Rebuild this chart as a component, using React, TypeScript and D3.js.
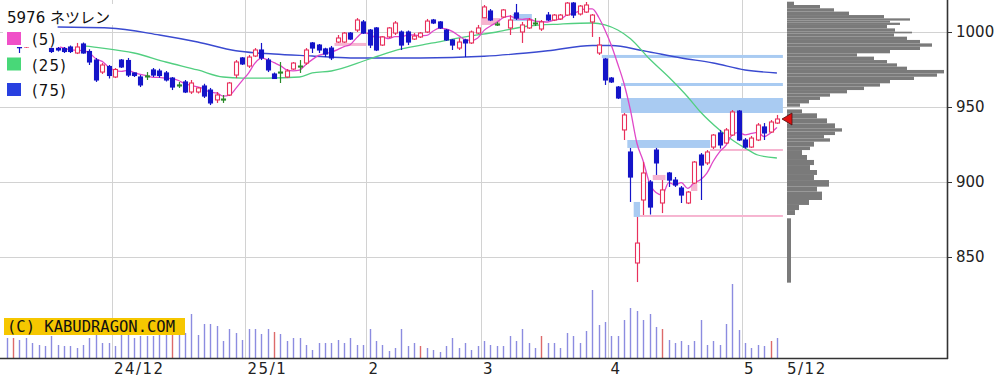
import React, { useEffect, useRef } from 'react';
import * as d3 from 'd3';

// daily candles, 2024/11 .. 2025/5/12
const opens = [
  992, 994, 993, 990, 993, 991, 994, 989, 989, 989,
  990, 986, 992, 987, 981.3, 973.3, 977, 970, 981.3, 981,
  972.7, 970, 970.7, 974.7, 974, 972.7, 969.3, 964.7, 966.7, 960,
  960, 964, 961.3, 954.7, 955.3, 958, 971.3, 982.7, 977.3, 984,
  988, 981.3, 972, 973.3, 970, 975.3, 977.3, 979.3, 992.7, 991.3,
  988.7, 989.3, 993.3, 993.3, 999.3, 1001.3, 1006.7, 1001.3, 1002.7, 991.3,
  996.7, 999.3, 1000, 1000, 995.3, 996.7, 1000, 1008, 1006.7, 1001.3,
  994.7, 989.3, 994.7, 992.7, 999.3, 1009.5, 1014, 1005.3, 1010, 1002.7,
  1012.7, 1000, 1002.7, 1006, 1002, 1011.3, 1008, 1008.7, 1011.3, 1019.3,
  1012, 1013.3, 1006.7, 986, 982, 969.3, 963.3, 934.7, 920, 846,
  888, 900, 921.3, 886, 906, 901.3, 896, 886, 899.3, 918,
  912.7, 923.3, 932.7, 926, 931.3, 947.3, 928, 923.3, 928, 936.7,
  933.3, 939.3,
];
const highs = [
  995, 997, 994, 994, 996, 995, 996, 989.5, 990, 990,
  991, 992.7, 993, 988.5, 982.7, 979.3, 978, 976, 982, 982.7,
  973, 971.3, 973.3, 976, 975.5, 974, 970, 966.7, 968, 968,
  963.3, 965.5, 962.7, 960, 958, 966.7, 981.3, 983.3, 984.7, 989.3,
  992.7, 982.7, 973, 980, 975.3, 980, 981.3, 989.3, 993.3, 992,
  989.5, 990.7, 998, 1000, 1000, 1009.3, 1008, 1002, 1003.3, 997.3,
  1003.3, 1007.3, 1001, 1001, 999.3, 1000, 1008.7, 1008.7, 1007.3, 1002,
  995.3, 996, 995.5, 1001, 1004.7, 1018, 1015.3, 1006.7, 1015.3, 1011.3,
  1018.7, 1006.7, 1009.3, 1009.3, 1008, 1013.3, 1012, 1012, 1020, 1020,
  1018, 1020, 1012, 996.7, 982.7, 970, 964, 946, 922.7, 876.7,
  913.3, 901.3, 922.7, 901.3, 906.7, 903.3, 897.3, 894, 914, 919.3,
  921.3, 932, 934.7, 936, 948, 948, 929.3, 930.7, 939.3, 939.3,
  941.3, 944.7,
];
const lows = [
  990, 991, 986, 989.5, 990, 990, 990, 986, 987, 986,
  986, 985.3, 985.5, 978, 966.7, 972, 969, 969.3, 976, 970,
  970, 963.3, 968, 970, 969.5, 967, 961.3, 962.7, 959.3, 958.7,
  959, 956, 951.3, 952.7, 952.7, 957.3, 969.3, 978, 976, 983.3,
  981.3, 973.3, 968.7, 966, 969.3, 974.7, 972.7, 978, 986, 986,
  983.3, 981.3, 992.7, 992.7, 994.7, 1000, 998.7, 989.3, 987.3, 990.7,
  996, 998, 988, 991.3, 994.7, 996, 999.3, 1005.3, 1002, 994,
  988, 988, 983.3, 992, 998.7, 1009.3, 1007.3, 1004, 1009.3, 998,
  1008, 992.7, 1002, 1004, 1000.7, 1007.3, 1007.3, 1008, 1010.7, 1009.3,
  1011, 1012.7, 996.7, 984.7, 964.7, 966, 955.3, 928, 886.7, 833.3,
  878, 878.3, 904.7, 879.3, 896.7, 896.7, 886, 885.3, 898.7, 888,
  911.3, 922, 922.3, 925.3, 930.7, 927.3, 922.3, 922.7, 927.3, 928,
  932.7, 938.7,
];
const closes = [
  994, 993, 989.5, 993, 991, 994, 991, 987, 988, 987,
  987, 990, 986, 980, 968, 978, 971, 975, 976.7, 971.3,
  971, 964.7, 970.7, 971.3, 971, 968, 963.3, 964.7, 960, 966,
  962.7, 957.3, 952.7, 958, 955.3, 966, 980, 978.7, 983.3, 988,
  982.7, 974.7, 969, 973.3, 974, 979.3, 977.3, 988, 989.3, 988,
  985.3, 982.7, 996, 999.3, 995.3, 1008, 999.3, 991.3, 988, 996.7,
  1002.7, 1006, 991.3, 993.3, 997.3, 999.3, 1007.3, 1006, 1002.7, 994.7,
  991.3, 993.3, 992.7, 1000, 1002.7, 1016.7, 1008, 1005.3, 1014.7, 1008,
  1009.3, 1004.7, 1008, 1006, 1006.7, 1008, 1011.3, 1011.3, 1019.3, 1011.3,
  1017.3, 1018, 1011.3, 991.3, 968, 966.7, 956, 944.7, 903.3, 859.3,
  906, 883.3, 912.7, 894.7, 901.3, 898, 891.3, 893.3, 913.3, 911.3,
  920, 931.3, 924.7, 934.7, 946.7, 928, 923.3, 929.3, 938, 932.7,
  940, 942,
];
// volume, thousand shares
const volumes = [
  20, 20, 18, 20, 15, 13, 12, 22, 13, 12,
  12, 10, 13, 20, 28, 15, 15, 12, 25, 25,
  20, 22, 22, 22, 24, 24, 24, 24, 25, 44,
  23, 34, 34, 32, 17, 29, 25, 18, 29, 29,
  24, 29, 26, 24, 17, 20, 20, 13, 8, 15,
  15, 15, 18, 15, 20, 13, 13, 29, 17, 13,
  7, 10, 29, 12, 15, 12, 10, 8, 6, 12,
  20, 10, 15, 8, 12, 17, 13, 12, 12, 22,
  17, 29, 15, 10, 22, 15, 15, 10, 25, 22,
  15, 27, 68, 33, 36, 22, 22, 38, 50, 47,
  38, 44, 31, 29, 18, 15, 17, 13, 17, 38,
  13, 17, 13, 34, 74, 28, 15, 10, 13, 12,
  17, 20,
];
const markedVolumeDays = [1, 26, 42, 65, 84, 103, 120];

// first trading day of each month
const monthStarts = [17, 38, 57, 75, 95, 116];
const monthLabels = ['24/12', '25/1', '2', '3', '4', '5'];
const lastDateLabel = '5/12';
const priceTicks = [1000, 950, 900, 850];

// moving averages (day index, price)
const ma25Days = [12, 15, 20, 25, 30, 34, 37, 41, 46, 48, 51, 57, 62, 67, 72, 77, 82, 87, 92, 94, 96, 98, 101, 104, 107, 109, 112, 114, 116, 118, 121];
const ma25Vals = [990.7, 989.3, 986, 980, 974.7, 970, 969.3, 969.3, 970, 972.7, 974, 982, 988.7, 992.7, 996.7, 1000, 1004, 1005.3, 1006, 1004.7, 1001.3, 995.5, 982, 970, 956.7, 946.7, 934.7, 928, 922.7, 918, 916];
const ma75Days = [8, 16, 24, 30, 36, 42, 48, 54, 65, 75, 85, 92, 95, 100, 106, 111, 116, 121];
const ma75Vals = [1003.3, 1002.7, 998, 993.3, 987.5, 985.3, 984, 982.7, 982.7, 983.8, 987.5, 991, 991, 987.5, 982.7, 979.3, 974.7, 972.7];

// price gaps (窓): -1 end = still open
const gapStart = [52, 75, 80, 94, 97, 97, 98, 99, 100, 102, 108, 111];
const gapEnd = [56, 77, 82, -1, -1, -1, 110, 99, -1, 103, 108, -1];
const gapLow = [990.7, 1004.7, 1007.3, 982.7, 964, 946, 922.7, 876.7, 876.7, 901.3, 894, 920.7];
const gapHigh = [992.7, 1009.3, 1012, 984.7, 966, 956, 928, 886.7, 878, 904.7, 898.7, 922];
const gapUp = [true, true, false, false, false, false, false, false, true, true, true, true];

// volume by price
const profHigh = [1020.2, 1018, 1015.8, 1013.6, 1011.3, 1009.1, 1007.6, 1006.2, 1004.7, 1002.4, 1000.2, 999.1, 996.9, 994.7, 992.4, 990.2, 988, 985.8, 983.6, 981.3, 979.1, 976.9, 974.7, 972.4, 970.2, 968, 965.8, 963.6, 961.3, 959.1, 956.9, 954.7, 952.4, 948.4, 945.8, 942.4, 939.1, 935.8, 933.6, 931.3, 929.1, 926.9, 923.6, 921.3, 918, 914.7, 911.3, 908, 904.7, 901.3, 896.9, 893.6, 888, 884.7, 881.3, 875.8];
const profLow = [1018, 1015.8, 1013.6, 1011.3, 1009.1, 1007.6, 1006.2, 1004.7, 1002.4, 1000.2, 999.1, 996.9, 994.7, 992.4, 990.2, 988, 985.8, 983.6, 981.3, 979.1, 976.9, 974.7, 972.4, 970.2, 968, 965.8, 963.6, 961.3, 959.1, 956.9, 954.7, 952.4, 950.2, 945.8, 942.4, 939.1, 935.8, 933.6, 931.3, 929.1, 926.9, 923.6, 921.3, 918, 914.7, 911.3, 908, 904.7, 901.3, 896.9, 893.6, 888, 884.7, 881.3, 878, 832.9];
const profVol = [7, 33, 47, 62, 97, 123, 103, 113, 100, 108, 125, 107, 120, 133, 145, 133, 103, 70, 87, 100, 110, 120, 157, 150, 127, 103, 93, 77, 60, 43, 33, 22, 13, 15, 30, 40, 48, 55, 48, 37, 43, 27, 23, 15, 20, 27, 23, 30, 27, 42, 30, 35, 22, 12, 8, 4];

const UP = '#e8305c';
const DOWN = '#1414c8';
const EVEN = '#2a8a2a';
const SANS = '"DejaVu Sans", "Noto Sans CJK JP", sans-serif';

const App: React.FC = () => {
    const svgRef = useRef<SVGSVGElement>(null);

    useEffect(() => {
        if (!svgRef.current) return;
        const svg = d3.select(svgRef.current);
        svg.selectAll('*').remove();

        const width = 1001;
        const height = 391;
        const axisX = 947;
        const baseY = 358;
        const n = closes.length;

        const x = d3.scaleLinear().domain([0, n - 1]).range([6.7, 776.9]);
        const y = d3.scaleLinear().domain([850, 1000]).range([257, 32]);
        const vy = d3.scaleLinear().domain([0, 100]).range([baseY, baseY - 100]);
        const pvx = d3.scaleLinear().domain([0, 160]).range([787, 947]);
        const step = x(1) - x(0);
        const rightEnd = x(n - 1) + 6;

        svg.append('rect').attr('width', width).attr('height', height).attr('fill', '#fff');

        // grid
        svg.append('g').selectAll('line').data(priceTicks).join('line')
            .attr('x1', 0).attr('x2', axisX)
            .attr('y1', d => Math.round(y(d)) + 0.5).attr('y2', d => Math.round(y(d)) + 0.5)
            .attr('stroke', '#d2d2d2');
        svg.append('g').selectAll('line').data(monthStarts).join('line')
            .attr('x1', d => Math.round(x(d) - step / 2) + 0.5).attr('x2', d => Math.round(x(d) - step / 2) + 0.5)
            .attr('y1', 0).attr('y2', baseY)
            .attr('stroke', '#d2d2d2');

        // gaps
        svg.append('g').selectAll('rect').data(gapStart.map((s, i) => i)).join('rect')
            .attr('x', i => x(gapStart[i]) - step / 2)
            .attr('width', i => (gapEnd[i] < 0 ? rightEnd : x(gapEnd[i]) + step / 2) - (x(gapStart[i]) - step / 2))
            .attr('y', i => y(gapHigh[i]))
            .attr('height', i => Math.max(1.5, y(gapLow[i]) - y(gapHigh[i])))
            .attr('fill', i => gapUp[i] ? '#f6b4d0' : '#a9cbf2');

        // moving averages
        const ma5: [number, number][] = [];
        for (let i = 4; i < n; i++) {
            ma5.push([i, d3.mean(closes.slice(i - 4, i + 1)) as number]);
        }
        const line = d3.line<[number, number]>()
            .x(d => x(d[0]))
            .y(d => y(d[1]))
            .curve(d3.curveMonotoneX);

        svg.append('path').datum(ma75Days.map((d, i) => [d, ma75Vals[i]] as [number, number]))
            .attr('fill', 'none').attr('stroke', '#3a4ad0').attr('stroke-width', 1.4).attr('d', line);
        svg.append('path').datum(ma25Days.map((d, i) => [d, ma25Vals[i]] as [number, number]))
            .attr('fill', 'none').attr('stroke', '#52cf80').attr('stroke-width', 1.3).attr('d', line);
        svg.append('path').datum(ma5)
            .attr('fill', 'none').attr('stroke', '#e048c8').attr('stroke-width', 1.3).attr('d', line);

        // candles
        const idx = d3.range(n);
        const colorOf = (i: number) => closes[i] > opens[i] ? UP : closes[i] < opens[i] ? DOWN : EVEN;
        const candles = svg.append('g');
        candles.selectAll('line').data(idx).join('line')
            .attr('x1', i => Math.round(x(i)) + 0.5).attr('x2', i => Math.round(x(i)) + 0.5)
            .attr('y1', i => y(highs[i])).attr('y2', i => y(lows[i]))
            .attr('stroke', colorOf).attr('stroke-width', 1.2);
        candles.selectAll('rect').data(idx).join('rect')
            .attr('x', i => Math.round(x(i)) - 1.5)
            .attr('width', 4)
            .attr('y', i => y(Math.max(opens[i], closes[i])))
            .attr('height', i => Math.max(1, Math.abs(y(opens[i]) - y(closes[i]))))
            .attr('fill', i => closes[i] > opens[i] ? '#fff' : colorOf(i))
            .attr('stroke', colorOf)
            .attr('stroke-width', 1.1);

        // volume
        svg.append('g').selectAll('rect').data(idx).join('rect')
            .attr('x', i => Math.round(x(i)) - 0.2)
            .attr('width', 1.4)
            .attr('y', i => vy(volumes[i]))
            .attr('height', i => baseY - vy(volumes[i]))
            .attr('fill', i => markedVolumeDays.includes(i) ? '#dd6a6a' : '#8c8ce0');

        // volume by price
        svg.append('g').selectAll('rect').data(profVol.map((v, i) => i)).join('rect')
            .attr('x', pvx(0))
            .attr('width', i => pvx(profVol[i]) - pvx(0))
            .attr('y', i => y(profHigh[i]))
            .attr('height', i => y(profLow[i]) - y(profHigh[i]))
            .attr('fill', '#7a7a7a');

        // last price marker
        const ly = y(closes[n - 1]);
        svg.append('path')
            .attr('d', `M${pvx(0) - 5},${ly} L${pvx(0) + 5},${ly - 6} L${pvx(0) + 5},${ly + 6} Z`)
            .attr('fill', '#e01010').attr('stroke', '#501010').attr('stroke-width', 0.8);

        // axes
        svg.append('line').attr('x1', axisX + 0.5).attr('x2', axisX + 0.5).attr('y1', 0).attr('y2', baseY + 1)
            .attr('stroke', '#333').attr('stroke-width', 1.6);
        svg.append('line').attr('x1', 0).attr('x2', axisX + 1).attr('y1', baseY + 0.5).attr('y2', baseY + 0.5)
            .attr('stroke', '#333').attr('stroke-width', 1.6);

        const yAxis = svg.append('g')
            .attr('transform', `translate(${axisX},0)`)
            .call(d3.axisRight(y).tickValues(priceTicks).tickSize(5).tickPadding(4).tickFormat(d3.format('d')));
        yAxis.select('.domain').remove();
        yAxis.selectAll('line').attr('stroke', '#333');
        yAxis.selectAll('text').attr('fill', '#222').style('font-family', SANS).style('font-size', '15px');

        const dates = svg.append('g')
            .style('font-family', SANS).style('font-size', '15px').style('letter-spacing', '1.5px').attr('fill', '#222');
        dates.selectAll('text').data(monthStarts).join('text')
            .attr('x', d => x(d) - 1)
            .attr('y', 374)
            .text((d, i) => monthLabels[i]);
        dates.append('text').attr('x', pvx(0)).attr('y', 374).text(lastDateLabel);

        // watermark
        svg.append('rect').attr('x', 4).attr('y', 318).attr('width', 181).attr('height', 17).attr('fill', '#f6c700');
        svg.append('text').attr('x', 7).attr('y', 332)
            .style('font-family', '"DejaVu Sans Mono", monospace').style('font-size', '15.5px')
            .attr('fill', '#111').text('(C) KABUDRAGON.COM');

        // title + legend
        svg.append('rect').attr('x', 3).attr('y', 4).attr('width', 121).attr('height', 21).attr('fill', '#fff');
        svg.append('text').attr('x', 7).attr('y', 23)
            .style('font-family', SANS).style('font-size', '15px').attr('fill', '#111').text('5976 ネツレン');

        const legend = [
            { label: '(5)', color: '#f050c8', top: 32 },
            { label: '(25)', color: '#48d878', top: 57.5 },
            { label: '(75)', color: '#2840e0', top: 83 },
        ];
        const lg = svg.append('g');
        lg.selectAll('rect.bg').data(legend).join('rect').attr('class', 'bg')
            .attr('x', 3).attr('y', d => d.top - 3).attr('width', d => d.label.length > 3 ? 68 : 57).attr('height', 18)
            .attr('fill', '#fff');
        lg.selectAll('rect.sw').data(legend).join('rect').attr('class', 'sw')
            .attr('x', 7).attr('y', d => d.top).attr('width', 14).attr('height', 13).attr('fill', d => d.color);
        lg.selectAll('text').data(legend).join('text')
            .attr('x', 32).attr('y', d => d.top + 13)
            .style('font-family', SANS).style('font-size', '15px').style('letter-spacing', '1px').attr('fill', '#111')
            .text(d => d.label);
    }, []);

    return (
        <svg ref={svgRef} width={1001} height={391}
            style={{ position: 'absolute', left: 0, top: 0, display: 'block' }} />
    );
};

export default App;
